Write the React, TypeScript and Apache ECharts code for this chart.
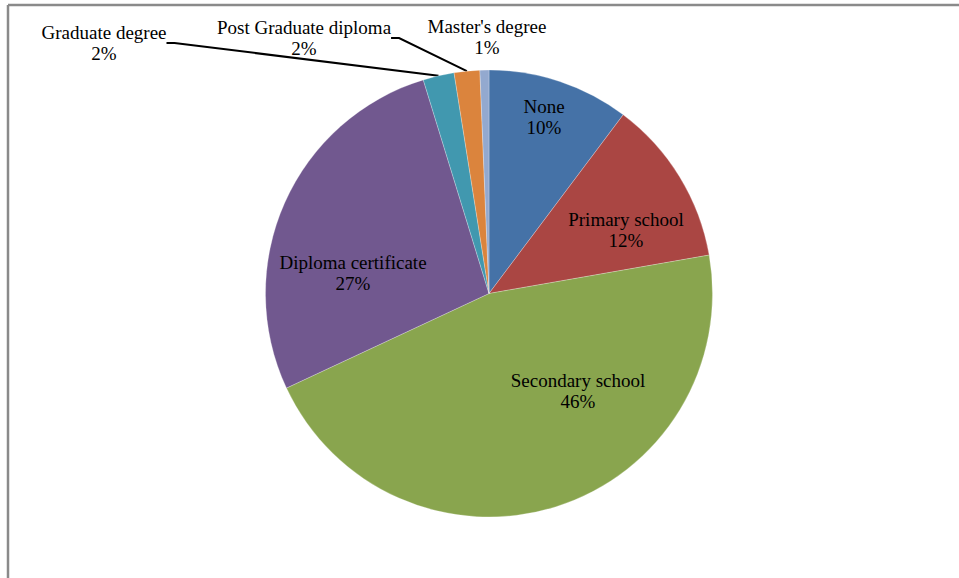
import React, { useEffect, useRef } from "react";
import * as echarts from "echarts";

// ---- data ----
const categories = [
  "None",
  "Primary school",
  "Secondary school",
  "Diploma certificate",
  "Graduate degree",
  "Post Graduate diploma",
  "Master's degree",
];
const shares = [10.25, 12.0, 45.8, 27.2, 2.25, 1.85, 0.65];
const sliceColors = ["#4572A7", "#AA4643", "#89A54E", "#71588F", "#4198AF", "#DB843D", "#93A9CF"];

// ---- layout (label placement, not data) ----
const LABEL_POS: Record<number, [number, number]> = {
  0: [544, 117],
  1: [626, 230],
  2: [578, 391],
  3: [353, 273],
  4: [104, 43],
  5: [304, 38],
  6: [487, 37],
};
const OUTSIDE = [4, 5, 6];
const WITH_LINE = [4, 5];

const FONT = "'Liberation Serif', 'Times New Roman', serif";

export default function App() {
  const ref = useRef<HTMLDivElement>(null);

  useEffect(() => {
    if (!ref.current) return;
    const chart = echarts.init(ref.current, undefined, { renderer: "svg" });

    const data = categories.map((name, i) => ({
      name,
      value: shares[i],
      itemStyle: { color: sliceColors[i] },
      label: { position: OUTSIDE.includes(i) ? "outside" : "inside" },
      labelLine: { show: WITH_LINE.includes(i) },
    }));

    chart.setOption({
      animation: false,
      backgroundColor: "#ffffff",
      graphic: [
        {
          type: "line",
          shape: { x1: 8, y1: 5, x2: 959, y2: 5 },
          style: { stroke: "#8a8a8a", lineWidth: 2.5 },
          silent: true,
        },
        {
          type: "line",
          shape: { x1: 8, y1: 5, x2: 8, y2: 578 },
          style: { stroke: "#8a8a8a", lineWidth: 2.5 },
          silent: true,
        },
      ],
      series: [
        {
          type: "pie",
          center: [489, 293.5],
          radius: 223.5,
          startAngle: 90,
          clockwise: true,
          avoidLabelOverlap: false,
          itemStyle: { borderColor: "rgba(255,255,255,0.5)", borderWidth: 0.5 },
          label: {
            show: true,
            color: "#000",
            fontFamily: FONT,
            fontSize: 19,
            lineHeight: 21,
            align: "center",
            formatter: (p: any) => `${p.name}\n${Math.round(p.percent)}%`,
          },
          labelLine: {
            show: true,
            length: 10,
            length2: 8,
            lineStyle: { color: "#000", width: 2 },
          },
          labelLayout: (params: any) => {
            const pos = LABEL_POS[params.dataIndex];
            return {
              x: pos[0],
              y: pos[1],
              align: "center",
              verticalAlign: "middle",
            };
          },
          emphasis: { disabled: true },
          data,
        },
      ],
    });

    return () => chart.dispose();
  }, []);

  return (
    <div
      ref={ref}
      style={{ position: "fixed", left: 0, top: 0, width: 959, height: 578 }}
    />
  );
}
